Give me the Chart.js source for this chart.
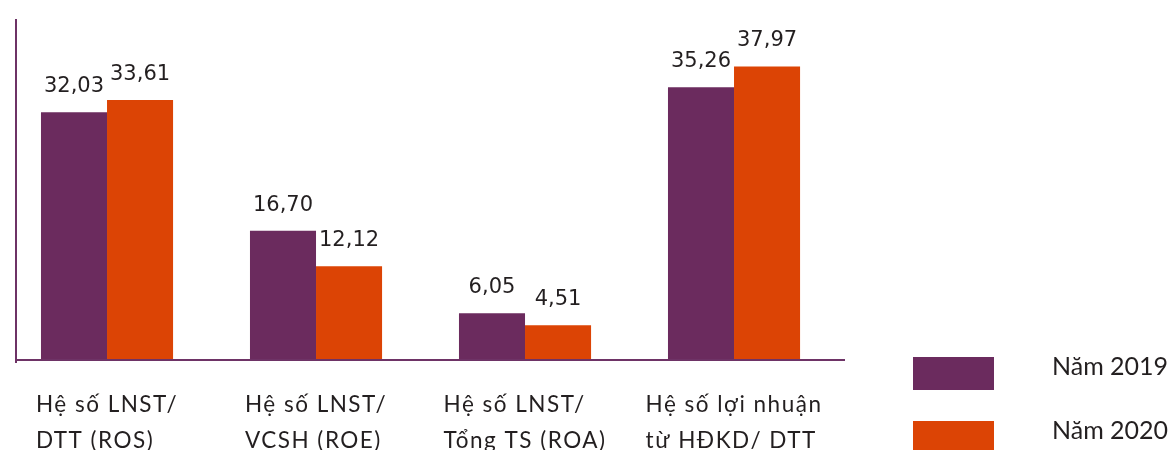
<!DOCTYPE html>
<html>
<head>
<meta charset="utf-8">
<script src="https://cdn.jsdelivr.net/npm/chart.js@4"></script>
<style>
  html, body { margin: 0; padding: 0; background: #ffffff; }
  canvas { display: block; }
</style>
</head>
<body>
<canvas id="chart" width="1176" height="450"></canvas>
<script>
// Financial ratios, 2019 vs 2020 (%)
const categories = [
  ['Hệ số LNST/', 'DTT (ROS)'],
  ['Hệ số LNST/', 'VCSH (ROE)'],
  ['Hệ số LNST/', 'Tổng TS (ROA)'],
  ['Hệ số lợi nhuận', 'từ HĐKD/ DTT']
];
const seriesNames = ['Năm 2019', 'Năm 2020'];
const values2019 = [32.03, 16.70, 6.05, 35.26];
const values2020 = [33.61, 12.12, 4.51, 37.97];

const PURPLE = '#6b2b5e';
const ORANGE = '#dc4405';
const AXIS = '#6e3366';
const TEXT = '#231f20';

// horizontal extent of the category axis (index units)
const X_MIN = -0.4355;
const X_MAX = 3.531;

const fmt = v => v.toFixed(2).replace('.', ',');

// Axis lines along the left and bottom edges of the plot area
const axisLines = {
  id: 'axisLines',
  afterDatasetsDraw(chart) {
    const { ctx, chartArea: a } = chart;
    ctx.save();
    ctx.strokeStyle = AXIS;
    ctx.lineWidth = 2;
    ctx.beginPath();
    ctx.moveTo(a.left, a.top);
    ctx.lineTo(a.left, a.bottom + 3);
    ctx.moveTo(a.left, a.bottom);
    ctx.lineTo(a.right, a.bottom);
    ctx.stroke();
    ctx.restore();
  }
};

// Value labels above each bar
const valueLabels = {
  id: 'valueLabels',
  afterDatasetsDraw(chart) {
    const { ctx } = chart;
    ctx.save();
    ctx.font = '21px "DejaVu Sans"';
    ctx.fillStyle = TEXT;
    ctx.textAlign = 'center';
    ctx.textBaseline = 'alphabetic';
    chart.data.datasets.forEach((ds, i) => {
      chart.getDatasetMeta(i).data.forEach((bar, j) => {
        ctx.fillText(fmt(ds.data[j].y), bar.x, bar.y - 20);
      });
    });
    ctx.restore();
  }
};

// Two-line category names, left-aligned as a block centred under each group
const categoryLabels = {
  id: 'categoryLabels',
  afterDraw(chart) {
    const { ctx, chartArea: a } = chart;
    const xs = chart.scales.x;
    ctx.save();
    ctx.font = '22.5px Lato';
    ctx.letterSpacing = '1.5px';
    ctx.fillStyle = TEXT;
    ctx.textAlign = 'left';
    ctx.textBaseline = 'alphabetic';
    categories.forEach((lines, i) => {
      const cx = xs.getPixelForValue(i);
      const w = Math.max(...lines.map(l => ctx.measureText(l).width));
      lines.forEach((l, k) => ctx.fillText(l, cx - w / 2, a.bottom + 52 + k * 36));
    });
    ctx.restore();
  }
};

// Legend on the right: colour swatch followed by series name
const sideLegend = {
  id: 'sideLegend',
  afterDraw(chart) {
    const { ctx, chartArea: a } = chart;
    ctx.save();
    ctx.font = '25px Lato';
    ctx.textAlign = 'left';
    ctx.textBaseline = 'alphabetic';
    chart.data.datasets.forEach((ds, i) => {
      const top = a.bottom - 3 + i * 64;
      ctx.fillStyle = ds.backgroundColor;
      ctx.fillRect(a.right + 68, top, 81, 33);
      ctx.fillStyle = TEXT;
      ctx.fillText(ds.label, a.right + 207, top + 18);
    });
    ctx.restore();
  }
};

new Chart(document.getElementById('chart'), {
  type: 'bar',
  data: {
    datasets: [
      {
        label: seriesNames[0],
        data: values2019.map((v, i) => ({ x: i, y: v })),
        backgroundColor: PURPLE,
        borderWidth: 0
      },
      {
        label: seriesNames[1],
        data: values2020.map((v, i) => ({ x: i, y: v })),
        backgroundColor: ORANGE,
        borderWidth: 0
      }
    ]
  },
  options: {
    responsive: false,
    animation: false,
    devicePixelRatio: 1,
    categoryPercentage: 0.632,
    barPercentage: 1,
    layout: { padding: { left: 16, top: 19, right: 331, bottom: 90 } },
    scales: {
      x: {
        type: 'linear',
        display: false,
        offset: false,
        bounds: 'data',
        grid: { offset: false },
        min: X_MIN,
        max: X_MAX,
        afterBuildTicks: s => {
          s.ticks = categories.map((_, i) => ({ value: i }));
          s.min = X_MIN;
          s.max = X_MAX;
        }
      },
      y: { display: false, min: 0, max: 44.1 }
    },
    plugins: {
      legend: { display: false },
      tooltip: { enabled: false }
    }
  },
  plugins: [axisLines, valueLabels, categoryLabels, sideLegend]
});
</script>
</body>
</html>
